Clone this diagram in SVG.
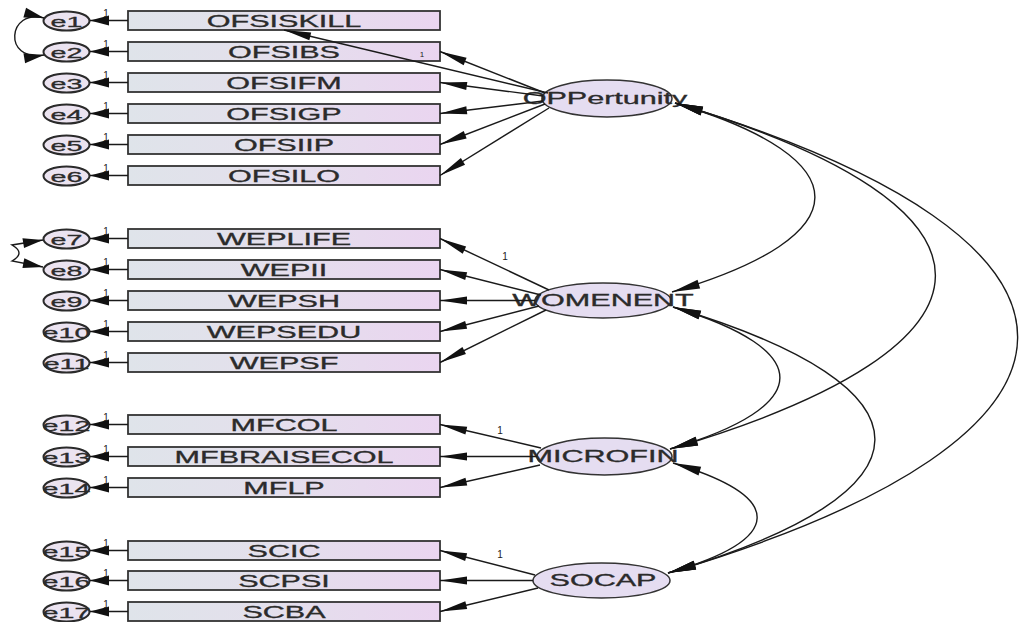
<svg xmlns="http://www.w3.org/2000/svg" width="1021" height="622" viewBox="0 0 1021 622">
<defs>
<style>
.bx{fill:url(#gb);stroke:#333;stroke-width:1.8}
.er{fill:#ebe3f0;stroke:#2a2a2a;stroke-width:2}
.lv{fill:#e5ddf1;stroke:#333;stroke-width:1.5}
.t{font-family:"Liberation Sans",Arial,sans-serif;font-size:16px;fill:#2b2b2b;stroke:#2b2b2b;stroke-width:0.3;text-anchor:middle}
.te{font-family:"Liberation Sans",Arial,sans-serif;font-size:15px;fill:#2b2b2b;stroke:#2b2b2b;stroke-width:0.3;text-anchor:middle}
.n{font-family:"Liberation Sans",Arial,sans-serif;font-size:10px;fill:#222;text-anchor:middle}
.c{fill:none;stroke:#1a1a1a;stroke-width:1.4}
</style>
<linearGradient id="gb" x1="0" y1="0" x2="1" y2="0">
<stop offset="0" stop-color="#dfe4ea"/>
<stop offset="0.5" stop-color="#e4dfec"/>
<stop offset="1" stop-color="#ead5f0"/>
</linearGradient>
<marker id="al" markerUnits="userSpaceOnUse" viewBox="-30 -6 32 12" refX="0" refY="0" markerWidth="32" markerHeight="12" orient="auto"><path d="M0,0 L-27,-4 L-27,4 Z" fill="#111"/></marker>
<marker id="ae" markerUnits="userSpaceOnUse" viewBox="-22 -6 24 12" refX="0" refY="0" markerWidth="24" markerHeight="12" orient="auto"><path d="M0,0 L-19,-5 L-19,5 Z" fill="#111"/></marker>
<marker id="ac" markerUnits="userSpaceOnUse" viewBox="-30 -6 32 12" refX="0" refY="0" markerWidth="32" markerHeight="12" orient="auto-start-reverse"><path d="M0,0 L-28,-4.5 L-28,4.5 Z" fill="#111"/></marker>
<marker id="as" markerUnits="userSpaceOnUse" viewBox="-24 -6 26 12" refX="0" refY="0" markerWidth="26" markerHeight="12" orient="auto-start-reverse"><path d="M0,0 L-20,-5 L-20,5 Z" fill="#111"/></marker>
</defs>
<rect width="1021" height="622" fill="#fff"/>

<!-- observed variables -->
<g id="OFSISKILL"><rect class="bx" x="128" y="11" width="312" height="19"/><text class="t" transform="translate(284,26.5) scale(1.91,1)">OFSISKILL</text></g>
<g id="OFSIBS"><rect class="bx" x="128" y="42" width="312" height="19"/><text class="t" transform="translate(284,57.5) scale(1.91,1)">OFSIBS</text></g>
<g id="OFSIFM"><rect class="bx" x="128" y="73" width="312" height="19"/><text class="t" transform="translate(284,88.5) scale(1.91,1)">OFSIFM</text></g>
<g id="OFSIGP"><rect class="bx" x="128" y="104" width="312" height="19"/><text class="t" transform="translate(284,119.5) scale(1.91,1)">OFSIGP</text></g>
<g id="OFSIIP"><rect class="bx" x="128" y="135" width="312" height="19"/><text class="t" transform="translate(284,150.5) scale(1.91,1)">OFSIIP</text></g>
<g id="OFSILO"><rect class="bx" x="128" y="166" width="312" height="19"/><text class="t" transform="translate(284,181.5) scale(1.91,1)">OFSILO</text></g>

<g id="WEPLIFE"><rect class="bx" x="128" y="229" width="312" height="19"/><text class="t" transform="translate(284,244.5) scale(1.91,1)">WEPLIFE</text></g>
<g id="WEPII"><rect class="bx" x="128" y="260" width="312" height="19"/><text class="t" transform="translate(284,275.5) scale(1.91,1)">WEPII</text></g>
<g id="WEPSH"><rect class="bx" x="128" y="291" width="312" height="19"/><text class="t" transform="translate(284,306.5) scale(1.91,1)">WEPSH</text></g>
<g id="WEPSEDU"><rect class="bx" x="128" y="322" width="312" height="19"/><text class="t" transform="translate(284,337.5) scale(1.91,1)">WEPSEDU</text></g>
<g id="WEPSF"><rect class="bx" x="128" y="353" width="312" height="19"/><text class="t" transform="translate(284,368.5) scale(1.91,1)">WEPSF</text></g>

<g id="MFCOL"><rect class="bx" x="128" y="415" width="312" height="19"/><text class="t" transform="translate(284,430.5) scale(1.91,1)">MFCOL</text></g>
<g id="MFBRAISECOL"><rect class="bx" x="128" y="447" width="312" height="19"/><text class="t" transform="translate(284,462.5) scale(1.91,1)">MFBRAISECOL</text></g>
<g id="MFLP"><rect class="bx" x="128" y="478" width="312" height="19"/><text class="t" transform="translate(284,493.5) scale(1.91,1)">MFLP</text></g>

<g id="SCIC"><rect class="bx" x="128" y="541" width="312" height="19"/><text class="t" transform="translate(284,556.5) scale(1.91,1)">SCIC</text></g>
<g id="SCPSI"><rect class="bx" x="128" y="571" width="312" height="19"/><text class="t" transform="translate(284,586.5) scale(1.91,1)">SCPSI</text></g>
<g id="SCBA"><rect class="bx" x="128" y="602" width="312" height="19"/><text class="t" transform="translate(284,617.5) scale(1.91,1)">SCBA</text></g>

<!-- error terms -->
<g id="e1"><ellipse class="er" cx="66.5" cy="21" rx="23" ry="9.5"/><text class="te" transform="translate(66.5,26.5) scale(1.91,1)">e1</text></g>
<g id="e2"><ellipse class="er" cx="66.5" cy="52" rx="23" ry="9.5"/><text class="te" transform="translate(66.5,57.5) scale(1.91,1)">e2</text></g>
<g id="e3"><ellipse class="er" cx="66.5" cy="83" rx="23" ry="9.5"/><text class="te" transform="translate(66.5,88.5) scale(1.91,1)">e3</text></g>
<g id="e4"><ellipse class="er" cx="66.5" cy="114" rx="23" ry="9.5"/><text class="te" transform="translate(66.5,119.5) scale(1.91,1)">e4</text></g>
<g id="e5"><ellipse class="er" cx="66.5" cy="145" rx="23" ry="9.5"/><text class="te" transform="translate(66.5,150.5) scale(1.91,1)">e5</text></g>
<g id="e6"><ellipse class="er" cx="66.5" cy="176" rx="23" ry="9.5"/><text class="te" transform="translate(66.5,181.5) scale(1.91,1)">e6</text></g>
<g id="e7"><ellipse class="er" cx="66.5" cy="239" rx="23" ry="9.5"/><text class="te" transform="translate(66.5,244.5) scale(1.91,1)">e7</text></g>
<g id="e8"><ellipse class="er" cx="66.5" cy="270" rx="23" ry="9.5"/><text class="te" transform="translate(66.5,275.5) scale(1.91,1)">e8</text></g>
<g id="e9"><ellipse class="er" cx="66.5" cy="301" rx="23" ry="9.5"/><text class="te" transform="translate(66.5,306.5) scale(1.91,1)">e9</text></g>
<g id="e10"><ellipse class="er" cx="66.5" cy="332" rx="23" ry="9.5"/><text class="te" transform="translate(66.5,337.5) scale(1.91,1)">e10</text></g>
<g id="e11"><ellipse class="er" cx="66.5" cy="363" rx="23" ry="9.5"/><text class="te" transform="translate(66.5,368.5) scale(1.91,1)">e11</text></g>
<g id="e12"><ellipse class="er" cx="66.5" cy="425" rx="23" ry="9.5"/><text class="te" transform="translate(66.5,430.5) scale(1.91,1)">e12</text></g>
<g id="e13"><ellipse class="er" cx="66.5" cy="457" rx="23" ry="9.5"/><text class="te" transform="translate(66.5,462.5) scale(1.91,1)">e13</text></g>
<g id="e14"><ellipse class="er" cx="66.5" cy="488" rx="23" ry="9.5"/><text class="te" transform="translate(66.5,493.5) scale(1.91,1)">e14</text></g>
<g id="e15"><ellipse class="er" cx="66.5" cy="551" rx="23" ry="9.5"/><text class="te" transform="translate(66.5,556.5) scale(1.91,1)">e15</text></g>
<g id="e16"><ellipse class="er" cx="66.5" cy="581" rx="23" ry="9.5"/><text class="te" transform="translate(66.5,586.5) scale(1.91,1)">e16</text></g>
<g id="e17"><ellipse class="er" cx="66.5" cy="612" rx="23" ry="9.5"/><text class="te" transform="translate(66.5,617.5) scale(1.91,1)">e17</text></g>

<!-- latent variables -->
<g id="OPPertunity"><ellipse class="lv" cx="607" cy="98.5" rx="65" ry="18.5"/><text class="t" transform="translate(605,104) scale(1.91,1)">OPPertunity</text></g>
<g id="WOMENENT"><ellipse class="lv" cx="603" cy="300.5" rx="68" ry="17.5"/><text class="t" transform="translate(603,306) scale(1.91,1)">WOMENENT</text></g>
<g id="MICROFIN"><ellipse class="lv" cx="604.5" cy="456.5" rx="67.5" ry="18.5"/><text class="t" transform="translate(603,462) scale(1.91,1)">MICROFIN</text></g>
<g id="SOCAP"><ellipse class="lv" cx="601.5" cy="580.5" rx="68.5" ry="17.5"/><text class="t" transform="translate(603,586) scale(1.91,1)">SOCAP</text></g>

<g id="connectors">
<!-- error paths -->
<g class="c" marker-end="url(#ae)">
<path d="M128,20.5 H90"/><path d="M128,51.5 H90"/><path d="M128,82.5 H90"/><path d="M128,113.5 H90"/><path d="M128,144.5 H90"/><path d="M128,175.5 H90"/>
<path d="M128,238.5 H90"/><path d="M128,269.5 H90"/><path d="M128,300.5 H90"/><path d="M128,331.5 H90"/><path d="M128,362.5 H90"/>
<path d="M128,424.5 H90"/><path d="M128,456.5 H90"/><path d="M128,487.5 H90"/>
<path d="M128,550.5 H90"/><path d="M128,580.5 H90"/><path d="M128,611.5 H90"/>
</g>
<!-- loadings -->
<g class="c" marker-end="url(#al)">
<path d="M548,93 L284,30"/>
<path d="M545,93 L440,51.5"/>
<path d="M543,96 L440,82.5"/>
<path d="M543,101 L440,113.5"/>
<path d="M545,104 L440,144.5"/>
<path d="M549,108 L440,175.5"/>
<path d="M549,290 L440,238.5"/>
<path d="M541,295 L440,269.5"/>
<path d="M535,300.5 L440,300.5"/>
<path d="M539,306 L440,331.5"/>
<path d="M546,310 L440,362.5"/>
<path d="M541,448 L440,424.5"/>
<path d="M537,456.5 L440,456.5"/>
<path d="M540,465 L440,487.5"/>
<path d="M535,575 L440,550.5"/>
<path d="M533,580.5 L440,580.5"/>
<path d="M538,588 L440,611.5"/>
</g>
<!-- covariances -->
<g class="c" marker-start="url(#ac)" marker-end="url(#ac)">
<path d="M675,103 C862,159 862,236 672,292"/>
<path d="M675,103 C1023,207 1023,345 670,449"/>
<path d="M675,103 C1133,241 1133,435 668,573"/>
<path d="M673,307 C816,350 816,406 670,449"/>
<path d="M673,307 C943,388 943,492 668,573"/>
<path d="M673,463 C786,497 786,539 668,573"/>
</g>
<g class="c" marker-start="url(#as)" marker-end="url(#as)">
<path d="M44,18 C8,8 2,62 44,55"/>
<path d="M43,240 L12,245 Q26,253 12,261 L43,267"/>
</g>
<!-- labels -->
<g class="n">
<text x="106" y="17">1</text><text x="106" y="48">1</text><text x="106" y="79">1</text><text x="106" y="110">1</text><text x="106" y="141">1</text><text x="106" y="172">1</text>
<text x="106" y="235">1</text><text x="106" y="266">1</text><text x="106" y="297">1</text><text x="106" y="328">1</text><text x="106" y="359">1</text>
<text x="106" y="421">1</text><text x="106" y="453">1</text><text x="106" y="484">1</text>
<text x="106" y="547">1</text><text x="106" y="577">1</text><text x="106" y="608">1</text>
<text x="422" y="57" font-size="8">1</text>
<text x="505" y="260">1</text>
<text x="500" y="434">1</text>
<text x="500" y="558">1</text>
</g>
</g>
</svg>
